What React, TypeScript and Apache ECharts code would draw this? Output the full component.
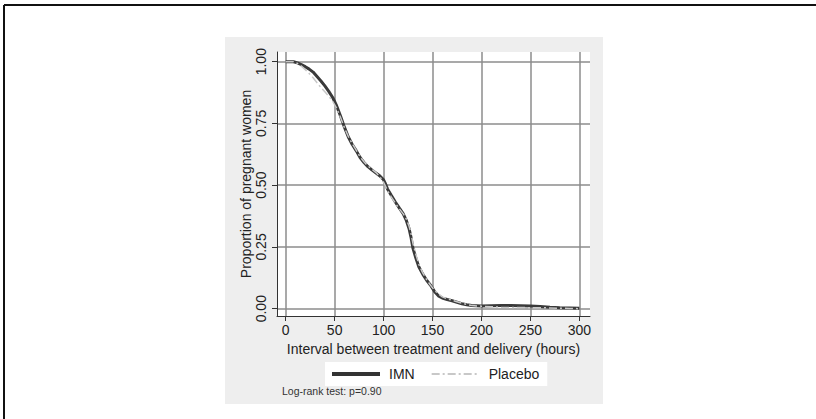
import React, { useEffect, useRef } from "react";
import * as echarts from "echarts";

const xTicks = [0, 50, 100, 150, 200, 250, 300];
const yTicks = [0, 0.25, 0.5, 0.75, 1];

const imnTime = [0, 8, 12, 16, 20, 24, 28, 32, 36, 40, 44, 48, 52, 56, 60, 64, 68, 72, 76, 80, 84, 88, 92, 96, 100, 102, 104, 108, 112, 116, 120, 123, 126, 128, 130, 133, 136, 140, 144, 148, 152, 156, 160, 165, 170, 175, 180, 185, 190, 200, 210, 220, 230, 240, 250, 260, 270, 280, 290, 300];
const imnSurv = [1.0, 1.0, 0.995, 0.988, 0.98, 0.97, 0.958, 0.94, 0.922, 0.902, 0.88, 0.855, 0.822, 0.78, 0.735, 0.695, 0.665, 0.64, 0.612, 0.592, 0.575, 0.562, 0.55, 0.538, 0.522, 0.505, 0.485, 0.458, 0.432, 0.408, 0.385, 0.36, 0.325, 0.29, 0.245, 0.205, 0.17, 0.14, 0.115, 0.095, 0.07, 0.052, 0.043, 0.037, 0.032, 0.026, 0.02, 0.016, 0.013, 0.011, 0.012, 0.013, 0.013, 0.012, 0.011, 0.009, 0.006, 0.004, 0.003, 0.002];

const placeboTime = [0, 8, 12, 16, 20, 24, 28, 32, 36, 40, 44, 48, 52, 56, 60, 64, 68, 72, 76, 80, 84, 88, 92, 96, 100, 102, 104, 108, 112, 116, 120, 123, 126, 128, 130, 133, 136, 140, 144, 148, 152, 156, 160, 165, 170, 175, 180, 185, 190, 200, 210, 220, 230, 240, 250, 260, 270, 280, 290, 300];
const placeboSurv = [1.0, 1.0, 0.993, 0.982, 0.968, 0.952, 0.935, 0.915, 0.895, 0.878, 0.86, 0.84, 0.812, 0.775, 0.733, 0.697, 0.668, 0.642, 0.615, 0.595, 0.578, 0.565, 0.552, 0.535, 0.512, 0.495, 0.478, 0.452, 0.428, 0.405, 0.385, 0.365, 0.335, 0.305, 0.265, 0.22, 0.18, 0.145, 0.118, 0.095, 0.075, 0.06, 0.048, 0.04, 0.034, 0.028, 0.022, 0.017, 0.013, 0.01, 0.008, 0.006, 0.005, 0.005, 0.004, 0.004, 0.003, 0.002, 0.001, 0.0];

const seriesNames = ["IMN", "Placebo"];
const xTitle = "Interval between treatment and delivery (hours)";
const yTitle = "Proportion of pregnant women";
const note = "Log-rank test: p=0.90";

const FONT = "Liberation Sans, Arial, Helvetica, sans-serif";

export default function App() {
  const ref = useRef<HTMLDivElement>(null);
  useEffect(() => {
    if (!ref.current) return;
    const chart = echarts.init(ref.current, null, { renderer: "svg" });
    const imnData = imnTime.map((t, i) => [t, imnSurv[i]]);
    const placeboData = placeboTime.map((t, i) => [t, placeboSurv[i]]);
    chart.setOption({
      animation: false,
      backgroundColor: "#ffffff",
      textStyle: { fontFamily: FONT },
      graphic: [
        { type: "rect", z: -10, silent: true, shape: { x: 225, y: 37, width: 378, height: 367 }, style: { fill: "#eeeeee" } },
        { type: "line", z: 10, silent: true, shape: { x1: 4, y1: 5, x2: 816, y2: 5 }, style: { stroke: "#111", lineWidth: 2 } },
        { type: "line", z: 10, silent: true, shape: { x1: 4, y1: 5, x2: 4, y2: 419 }, style: { stroke: "#111", lineWidth: 2 } },
        { type: "text", z: 10, silent: true, x: 282, y: 391, style: { text: note, fontSize: 10.5, fill: "#333", fontFamily: FONT, verticalAlign: "middle" } },
      ],
      grid: {
        left: 277, right: 226, top: 52, bottom: 103,
        show: true, backgroundColor: "#ffffff", borderWidth: 0,
      },
      legend: {
        left: 325, top: 362,
        data: [
          { name: seriesNames[0], lineStyle: { width: 4, color: "#333" } },
          { name: seriesNames[1] },
        ],
        itemWidth: 48, itemHeight: 12, itemGap: 16,
        backgroundColor: "#ffffff",
        padding: [5, 8, 5, 5],
        itemStyle: { opacity: 0 },
        textStyle: { fontSize: 14, color: "#222", fontFamily: FONT, padding: [0, 0, 0, 4] },
      },
      xAxis: {
        type: "value",
        min: -8.89, max: 310.93,
        name: xTitle, nameLocation: "middle", nameGap: 25,
        nameTextStyle: { fontSize: 14, color: "#222", fontFamily: FONT },
        axisLine: { show: true, onZero: false, lineStyle: { color: "#333", width: 1 } },
        axisTick: { show: true, customValues: xTicks, length: 5, lineStyle: { color: "#333" } },
        axisLabel: { customValues: xTicks, fontSize: 14, color: "#222", margin: 7, fontFamily: FONT },
        splitLine: { show: true, lineStyle: { color: "#8c8c8c", width: 1.5 } },
      },
      yAxis: {
        type: "value",
        min: -0.0296, max: 1.0393,
        name: yTitle, nameLocation: "middle", nameGap: 23, nameRotate: 90,
        nameTextStyle: { fontSize: 14, color: "#222", fontFamily: FONT },
        axisLine: { show: true, onZero: false, lineStyle: { color: "#333", width: 1 } },
        axisTick: { show: true, customValues: yTicks, length: 5, lineStyle: { color: "#333" } },
        axisLabel: {
          customValues: yTicks, rotate: 90, fontSize: 14, color: "#222", margin: 9, fontFamily: FONT,
          formatter: (v: number) => v.toFixed(2),
        },
        splitLine: { show: true, lineStyle: { color: "#8c8c8c", width: 1.5 } },
      },
      series: [
        {
          name: seriesNames[0], type: "line", data: imnData, symbol: "none", showSymbol: false,
          lineStyle: { color: "#3a3a3a", width: 3 }, itemStyle: { color: "#3a3a3a", opacity: 0 }, z: 3,
        },
        {
          name: seriesNames[1], type: "line", data: placeboData, symbol: "none", showSymbol: false,
          lineStyle: { color: "#c8c8c8", width: 1.5, type: [8, 3, 2, 3] }, itemStyle: { color: "#c8c8c8", opacity: 0 }, z: 4,
        },
      ],
    });
    return () => chart.dispose();
  }, []);
  return <div ref={ref} style={{ position: "fixed", left: 0, top: 0, width: 816, height: 419 }} />;
}
